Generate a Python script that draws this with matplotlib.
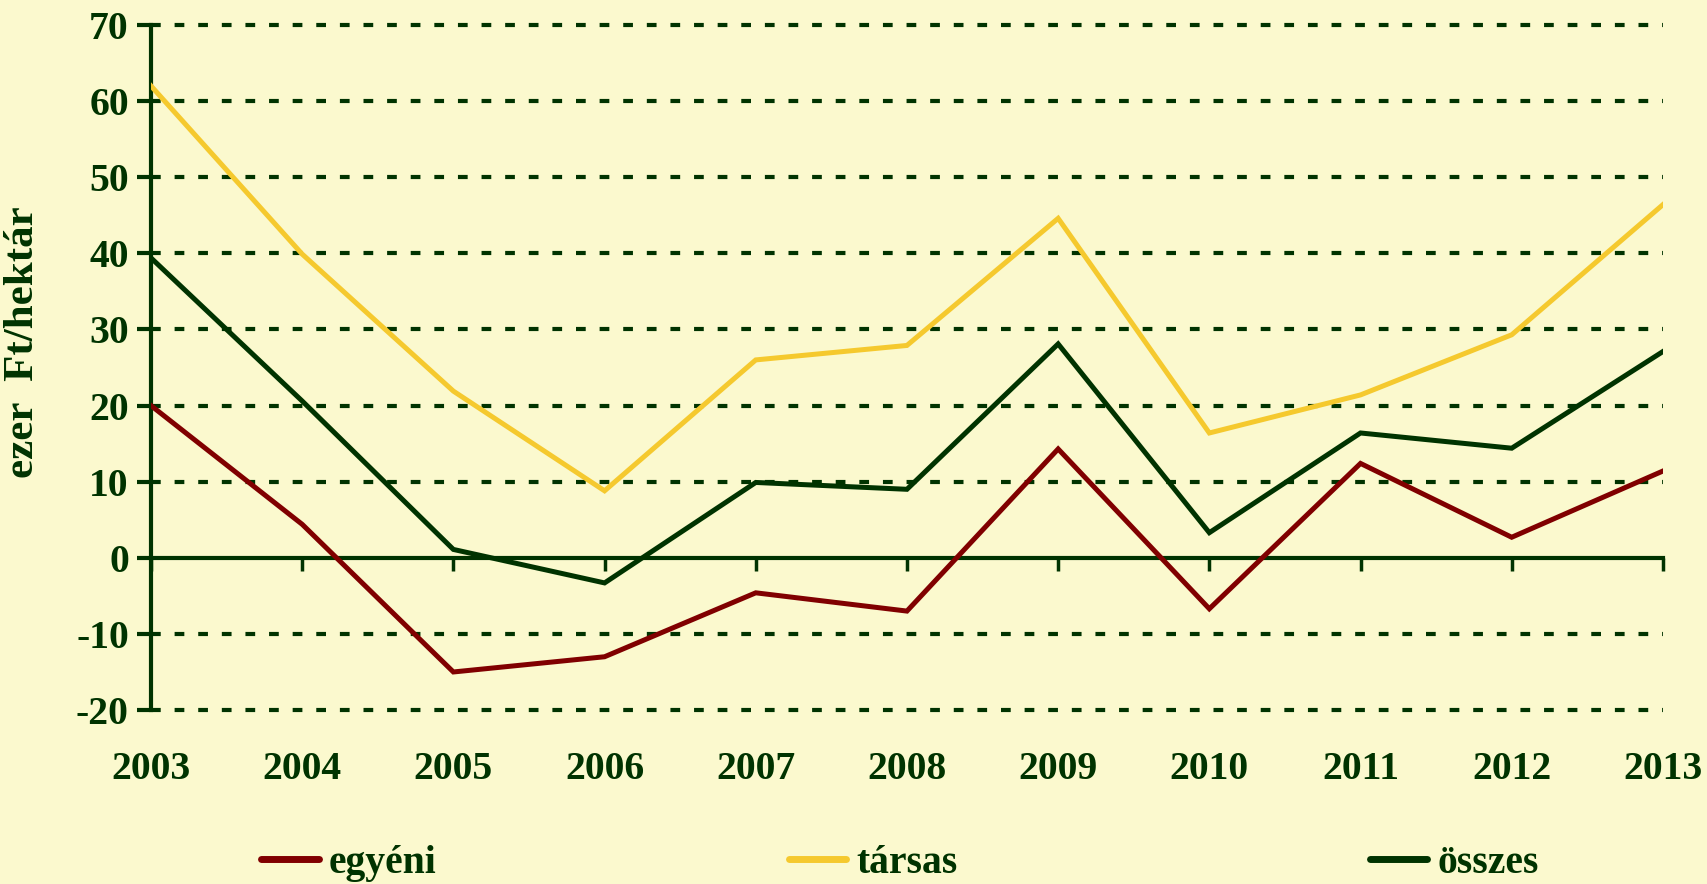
import numpy as np
import matplotlib
matplotlib.use('Agg')
import matplotlib.pyplot as plt
import matplotlib.transforms as mtransforms

years = [2003, 2004, 2005, 2006, 2007, 2008, 2009, 2010, 2011, 2012, 2013]
egyeni = [20.0, 4.4, -15.0, -13.0, -4.6, -7.0, 14.3, -6.7, 12.4, 2.7, 11.4]
tarsas = [62.0, 39.9, 21.9, 8.8, 26.0, 27.9, 44.6, 16.4, 21.4, 29.3, 46.4]
osszes = [39.4, 20.6, 1.1, -3.3, 9.9, 9.0, 28.1, 3.3, 16.4, 14.4, 27.1]
series_names = ['egyéni', 'társas', 'összes']
y_ticks = [-20, -10, 0, 10, 20, 30, 40, 50, 60, 70]

BG = '#FBF9CE'
DARK = '#003300'
RED = '#800000'
YELLOW = '#F5C92E'

plt.rcParams['font.family'] = ['Liberation Serif', 'DejaVu Serif']
plt.rcParams['font.weight'] = 'bold'
plt.rcParams['lines.scale_dashes'] = False

fig = plt.figure(figsize=(17.08, 8.84), dpi=100, facecolor=BG)
ax = fig.add_axes([0.0884, 0.1968, 0.9736 - 0.0884, 0.9717 - 0.1968])
ax.set_facecolor(BG)

# dashed grid lines (skip zero, the axis sits there)
for y in y_ticks:
    if y != 0:
        ax.axhline(y, color=DARK, lw=3, dashes=(7, 10), zorder=1, clip_on=False)

lines = []
for vals, color, name in zip([egyeni, tarsas, osszes], [RED, YELLOW, DARK], series_names):
    ln, = ax.plot(years, vals, color=color, lw=3.6, label=name, zorder=3,
                  solid_joinstyle='miter')
    lines.append(ln)

ax.set_xlim(years[0], years[-1])
ax.set_ylim(-20, 70)

for s in ['top', 'right']:
    ax.spines[s].set_visible(False)
ax.spines['bottom'].set_position(('data', 0))
ax.spines['bottom'].set_color(DARK)
ax.spines['bottom'].set_linewidth(3)
ax.spines['left'].set_color(DARK)
ax.spines['left'].set_linewidth(3)
ax.spines['bottom'].set_zorder(2)

ax.set_yticks(y_ticks)
ax.set_yticklabels([str(v) for v in y_ticks])
ax.tick_params(axis='y', direction='out', length=10, width=3, color=DARK,
               labelsize=28.5, labelcolor=DARK, pad=6)
ax.set_xticks(years)
ax.tick_params(axis='x', direction='out', length=9, width=2.5, color=DARK,
               labelbottom=False)

# year labels below the plot area
trans = mtransforms.blended_transform_factory(ax.transData, ax.transAxes)
for yr in years:
    ax.text(yr, -0.087, str(yr), transform=trans, ha='center', va='center',
            fontsize=28.5, fontweight='bold', color=DARK)

ax.set_ylabel('ezer  Ft/hektár', fontsize=31, fontweight='bold', color=DARK)
ax.yaxis.set_label_coords(-0.072, 0.537)

# legend entries spread across the bottom
legend_x = [0.153, 0.462, 0.802]
for ln, lx in zip(lines, legend_x):
    leg = fig.legend(handles=[ln], loc='center left', bbox_to_anchor=(lx, 0.023),
                     frameon=False, fontsize=28.5, handlelength=1.45,
                     handletextpad=0.25, borderpad=0, borderaxespad=0)
    for t in leg.get_texts():
        t.set_color(DARK)
        t.set_fontweight('bold')
    for h in leg.legend_handles:
        h.set_linewidth(5)
        h.set_solid_capstyle('round')

fig.savefig('out.png', dpi=100, facecolor=BG)
